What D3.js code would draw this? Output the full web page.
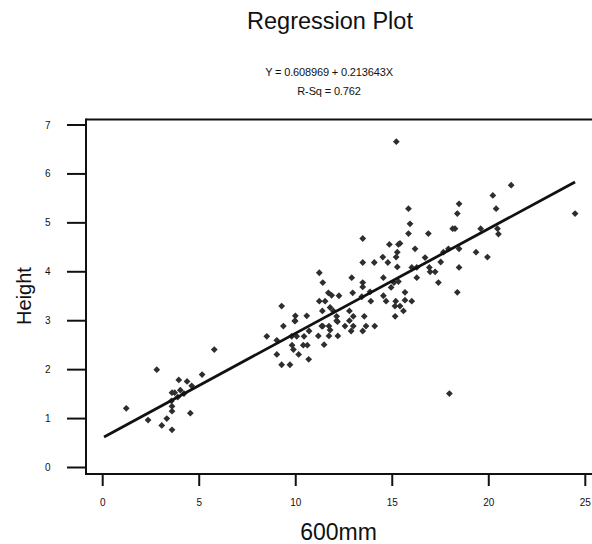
<html>
<head>
    <style>
        body {
            margin: 0;
            background-color: white;
            font-family: "Liberation Sans", Arial, Helvetica, sans-serif;
        }
        svg text { fill: #111; }
    </style>
    <script src="https://cdn.jsdelivr.net/npm/d3@7/dist/d3.min.js"></script>
</head>
<body>
<svg id="chart"></svg>
<script>
    let mm600 = [5.78, 2.80, 5.15, 3.94, 4.37, 3.59, 3.73, 4.02, 4.21, 4.61, 3.89, 3.56, 3.59, 3.59, 4.54, 2.35, 3.32, 3.06, 3.59, 1.22,
                 9.27, 9.98, 10.57, 9.36, 9.96, 8.50, 9.02, 9.79, 10.05, 10.43, 10.69, 9.81, 9.88, 10.39, 10.60, 9.02, 10.15, 10.67, 9.27, 9.70,
                 11.22, 11.22, 11.47, 11.17, 11.35, 11.72, 11.78, 12.18, 11.72, 12.16, 12.55, 12.87, 13.47, 13.64, 14.09, 17.96,
                 13.47, 14.85, 15.32, 15.26, 15.20, 14.51, 14.77, 13.47, 14.07, 15.26, 11.40, 12.90, 13.47, 13.47, 14.54, 15.32,
                 12.95, 11.69, 11.86, 12.24, 13.85, 14.54, 14.68, 14.94, 15.18, 15.14, 11.52, 13.89, 13.42, 11.38, 11.78, 11.95,
                 12.78, 12.12, 12.12, 12.98, 12.78, 13.55, 11.40, 12.98,
                 15.84, 18.46, 18.37, 15.92, 15.84, 16.87, 18.13, 18.25, 19.58, 15.40, 16.18, 16.70, 17.65, 17.91, 18.46, 19.34, 19.93,
                 16.01, 16.27, 16.92, 17.51, 16.96, 17.22, 18.46, 16.27, 17.39, 18.37, 15.09, 15.66, 15.66, 16.01, 15.40, 15.58, 15.15,
                 21.16, 20.21, 20.38, 24.47, 20.45, 20.50, 15.21, 9.96]
    let heights = [2.41, 2.00, 1.90, 1.79, 1.76, 1.53, 1.53, 1.58, 1.51, 1.67, 1.44, 1.36, 1.25, 1.15, 1.11, 0.97, 1.00, 0.86, 0.77, 1.21,
                  3.30, 3.10, 3.10, 2.89, 2.99, 2.68, 2.60, 2.68, 2.68, 2.68, 2.79, 2.50, 2.41, 2.50, 2.50, 2.31, 2.31, 2.21, 2.10, 2.10,
                  3.98, 3.40, 2.51, 2.69, 2.89, 2.89, 2.81, 2.69, 2.69, 2.98, 2.89, 2.79, 2.79, 2.89, 2.89, 1.51,
                  4.68, 4.56, 4.56, 4.40, 4.30, 4.30, 4.19, 4.19, 4.19, 4.10, 3.78, 3.88, 3.78, 3.69, 3.88, 3.80,
                  3.57, 3.57, 3.52, 3.51, 3.59, 3.51, 3.40, 3.68, 3.40, 3.30, 3.40, 3.40, 3.49, 3.20, 3.27, 3.20,
                  3.20, 3.09, 3.00, 3.09, 3.00, 3.09, 2.89, 2.89,
                  5.29, 5.39, 5.19, 4.98, 4.78, 4.78, 4.88, 4.88, 4.88, 4.58, 4.47, 4.29, 4.40, 4.47, 4.47, 4.40, 4.30,
                  4.09, 4.09, 4.09, 4.20, 4.00, 4.00, 4.09, 3.88, 3.78, 3.58, 3.78, 3.58, 3.42, 3.40, 3.30, 3.20, 3.09,
                  5.77, 5.56, 5.29, 5.19, 4.88, 4.77, 6.66, 3.00]

    // fitted line from the plot's equation
    let intercept = 0.608969
    let slope = 0.213643
    let fitRange = [0.07, 24.47]

    let xTicks = [0, 5, 10, 15, 20, 25]
    let yTicks = [0, 1, 2, 3, 4, 5, 6, 7]

    let svgWidth = 592
    let svgHeight = 544

    let svg = d3.select("#chart")
        .attr("width", svgWidth)
        .attr("height", svgHeight)

    let x = d3.scaleLinear().domain([0, 25]).range([102.7, 585.3])
    let y = d3.scaleLinear().domain([0, 7]).range([467.5, 125])

    let frameLeft = 86, frameTop = 119.5, frameBottom = 474

    // titles
    svg.append("text")
        .attr("x", 330).attr("y", 29)
        .attr("text-anchor", "middle")
        .style("font-size", "23.5px")
        .text("Regression Plot")

    svg.append("text")
        .attr("x", 329).attr("y", 75.5)
        .attr("text-anchor", "middle")
        .style("font-size", "11px")
        .style("letter-spacing", "-0.15px")
        .text("Y = 0.608969 + 0.213643X")

    svg.append("text")
        .attr("x", 329).attr("y", 95)
        .attr("text-anchor", "middle")
        .style("font-size", "11px")
        .style("letter-spacing", "-0.15px")
        .text("R-Sq = 0.762")

    // frame: left axis and top border, bottom axis
    svg.append("line")
        .attr("x1", frameLeft).attr("x2", 600)
        .attr("y1", frameTop).attr("y2", frameTop)
        .attr("stroke", "#111").attr("stroke-width", 2)
    svg.append("line")
        .attr("x1", frameLeft).attr("x2", frameLeft)
        .attr("y1", frameTop - 1).attr("y2", frameBottom + 1)
        .attr("stroke", "#111").attr("stroke-width", 2)
    svg.append("line")
        .attr("x1", frameLeft - 1).attr("x2", 600)
        .attr("y1", frameBottom).attr("y2", frameBottom)
        .attr("stroke", "#111").attr("stroke-width", 2)

    // y ticks
    let yAxis = svg.append("g")
    yAxis.selectAll("line").data(yTicks).enter().append("line")
        .attr("x1", 67).attr("x2", frameLeft)
        .attr("y1", d => y(d)).attr("y2", d => y(d))
        .attr("stroke", "#111").attr("stroke-width", 2)
    yAxis.selectAll("text").data(yTicks).enter().append("text")
        .attr("x", 50.5).attr("y", d => y(d) + 3.5)
        .attr("text-anchor", "end")
        .style("font-size", "10px")
        .text(d => d)

    // x ticks
    let xAxis = svg.append("g")
    xAxis.selectAll("line").data(xTicks).enter().append("line")
        .attr("x1", d => x(d)).attr("x2", d => x(d))
        .attr("y1", frameBottom).attr("y2", 486)
        .attr("stroke", "#111").attr("stroke-width", 2)
    xAxis.selectAll("text").data(xTicks).enter().append("text")
        .attr("x", d => x(d)).attr("y", 505.5)
        .attr("text-anchor", "middle")
        .style("font-size", "10px")
        .text(d => d)

    // axis titles
    svg.append("text")
        .attr("transform", "translate(31,296) rotate(-90)")
        .attr("text-anchor", "middle")
        .style("font-size", "20px")
        .text("Height")

    svg.append("text")
        .attr("x", 338.5).attr("y", 540)
        .attr("text-anchor", "middle")
        .style("font-size", "23px")
        .text("600mm")

    // points
    let diamond = d3.symbol().type(d3.symbolSquare).size(23)
    svg.append("g").selectAll("path")
        .data(mm600.map((v, i) => [v, heights[i]]))
        .enter().append("path")
        .attr("d", diamond)
        .attr("transform", d => "translate(" + x(d[0]) + "," + y(d[1]) + ") rotate(45)")
        .attr("fill", "#2e2e2e")

    // regression line
    svg.append("line")
        .attr("x1", x(fitRange[0])).attr("y1", y(intercept + slope * fitRange[0]))
        .attr("x2", x(fitRange[1])).attr("y2", y(intercept + slope * fitRange[1]))
        .attr("stroke", "#111").attr("stroke-width", 2.8)
</script>
</body>
</html>
